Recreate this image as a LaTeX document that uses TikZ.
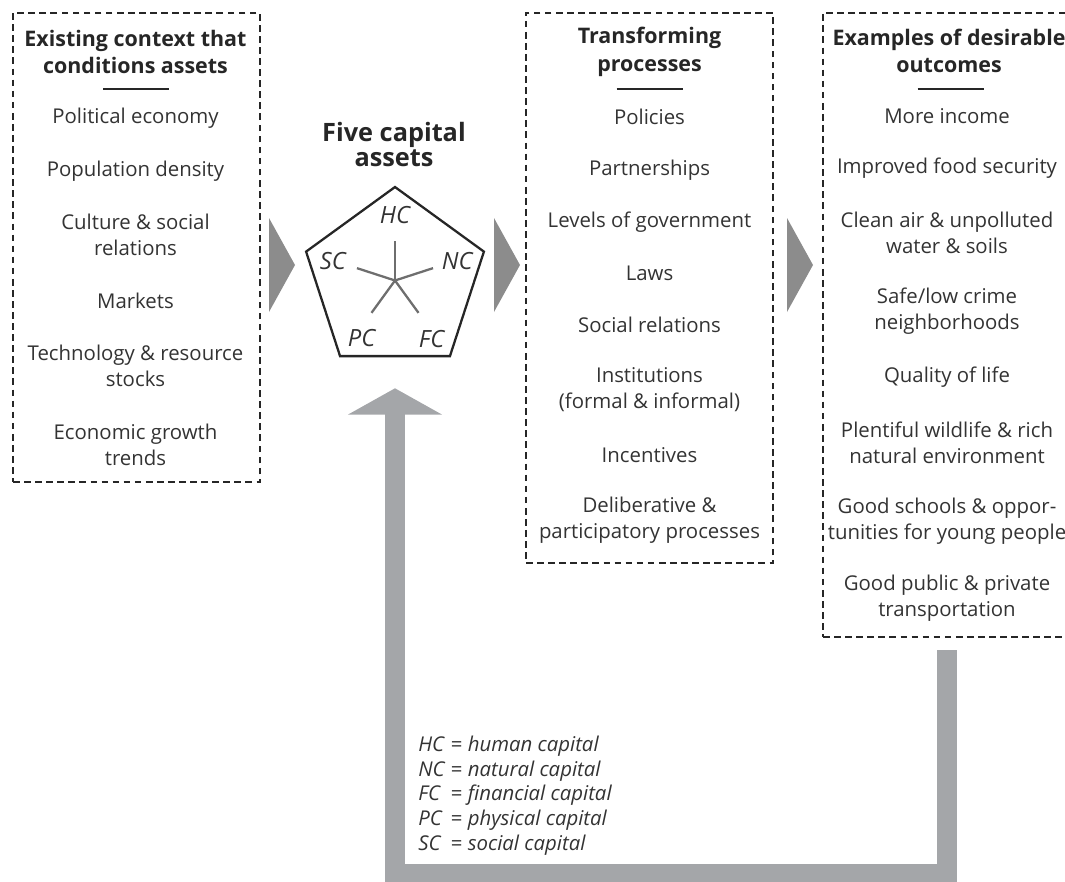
\documentclass[tikz,border=0pt]{standalone}
\usepackage{fontspec}
\setmainfont{Open Sans}
\usetikzlibrary{shapes.geometric,arrows.meta,calc}
\definecolor{ink}{HTML}{333333}
\definecolor{headink}{HTML}{262626}
\definecolor{chevgray}{HTML}{8C8C8C}
\definecolor{bandgray}{HTML}{A4A6A9}
\definecolor{spokegray}{HTML}{6E6E6E}

\begin{document}
\begin{tikzpicture}[x=0.02cm,y=-0.02cm,
		dashbox/.style={draw=headink, line width=1.3pt, dash pattern=on 3.8pt off 2.5pt, inner sep=0pt},
		item/.style={text=ink, align=center, font=\fontsize{11.6}{14.7}\selectfont},
		head/.style={text=headink, align=center, font=\bfseries\fontsize{12.2}{15.8}\selectfont},
		rule/.style={draw=headink, line width=1.2pt},
		chev/.style={fill=chevgray},
		band/.style={draw=bandgray, line width=11.3pt, line join=miter},
		capital/.style={text=ink, font=\itshape\fontsize{13.5}{15}\selectfont}]
	\useasboundingbox (0,0) rectangle (1065,882);
	% the three dashed frames
	\node[dashbox, minimum width=4.94cm, minimum height=9.38cm] (context) at (136.5,247.5) {};
	\node[dashbox, minimum width=4.94cm, minimum height=11cm] (process) at (649.5,288) {};
	\node[dashbox, minimum width=5.04cm, minimum height=12.48cm] (outcomes) at (949,325) {};
	% headings
	\node[head] (contexthead) at (135.5,52) {Existing context that\\conditions assets};
	\node[head] (processhead) at (649.5,52) {Transforming\\processes};
	\node[head] (outcomehead) at (949,51) {Examples of desirable\\outcomes};
	\foreach \cx in {136,649.5,950.5}
		\draw[rule] (\cx-33,89) -- (\cx+33,89);
	% column items
	\foreach \y/\txt [count=\i] in {118/{Political economy}, 171/{Population density},
			235/{Culture \& social\\relations}, 301/{Markets},
			366/{Technology \& resource\\stocks}, 445/{Economic growth\\trends}}
		\node[item] (context\i) at (135.5,\y) {\txt};
	\foreach \y/\txt [count=\i] in {117/{Policies}, 170/{Partnerships},
			222/{Levels of government}, 273/{Laws}, 325/{Social relations},
			390/{Institutions\\(formal \& informal)}, 455/{Incentives},
			520/{Deliberative \&\\participatory processes}}
		\node[item] (process\i) at (649.5,\y) {\txt};
	\foreach \y/\txt [count=\i] in {116/{More income}, 168/{Improved food security},
			233/{Clean air \& unpolluted\\water \& soils}, 311/{Safe/low crime\\neighborhoods},
			377/{Quality of life}, 442.5/{Plentiful wildlife \& rich\\natural environment},
			521/{Good schools \& oppor-\\tunities for young people},
			598.5/{Good public \& private\\transportation}}
		\node[item] (outcome\i) at (947,\y) {\txt};
	% five capital assets
	\node[head, font=\bfseries\fontsize{14.4}{14.3}\selectfont] (capitalshead) at (394,144.5) {Five capital\\assets};
	\node[draw=headink, line width=1.3pt, regular polygon, regular polygon sides=5,
		minimum size=3.74cm, inner sep=0pt] (capitals) at (395,280.5) {};
	\foreach \a in {90,162,18,234,306}
		\draw[spokegray, line width=1.3pt] (capitals.center) -- ++(\a:0.8cm);
	\foreach \a/\c/\r in {90/HC/1.3,163/SC/1.3,17/NC/1.3,240/PC/1.34,302/FC/1.38}
		\node[capital] (\c) at ($(capitals.center)+(\a:\r cm)$) {\c};
	% chevrons between the columns
	\foreach \x in {269,494,787}
		\fill[chev] (\x,218) -- (\x+26,265) -- (\x,312) -- cycle;
	% feedback from outcomes back to the assets
	\coordinate (fbstart) at ($(outcomes.south)+(-2,12)$);
	\draw[band, -{Triangle[width=53pt,length=15pt]}] (fbstart) |- (395,874)
		-- ($(capitals.south)+(0,31)$);
	\node[anchor=west, text=ink, font=\fontsize{11.6}{14.2}\selectfont, inner sep=0pt] (legend) at (418,796)
		{\begin{tabular}{@{}l@{ = }l@{}}
			\textit{HC} & \textit{human capital}\\
			\textit{NC} & \textit{natural capital}\\
			\textit{FC} & \textit{financial capital}\\
			\textit{PC} & \textit{physical capital}\\
			\textit{SC} & \textit{social capital}
		\end{tabular}};
\end{tikzpicture}
\end{document}
